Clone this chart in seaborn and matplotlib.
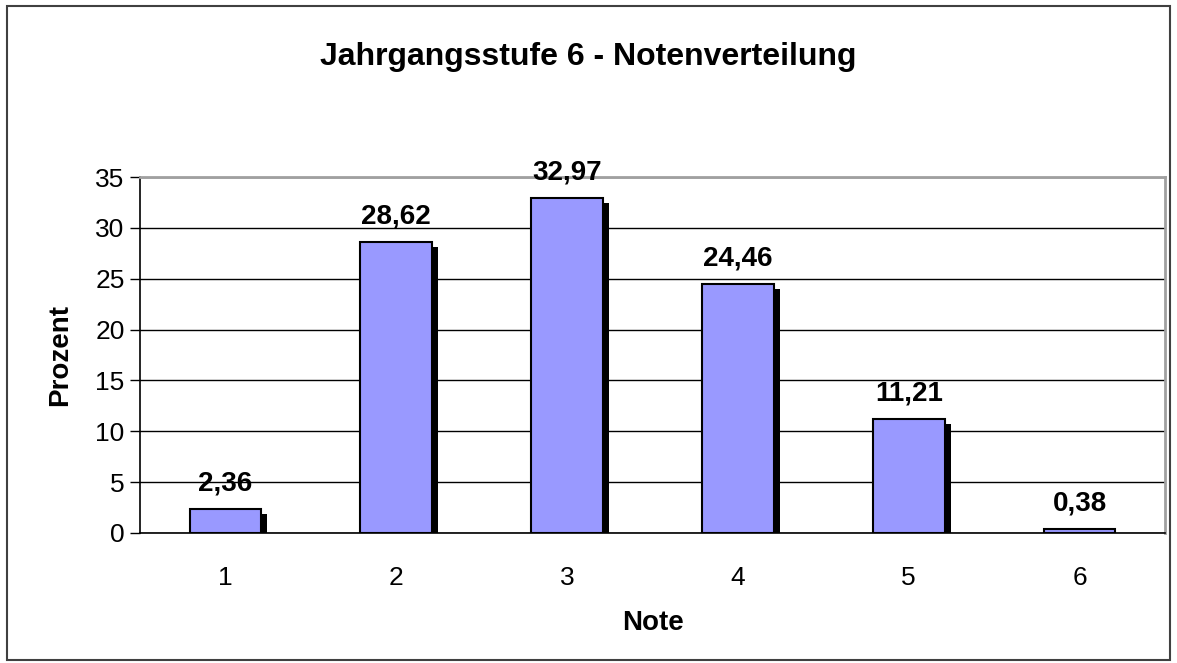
import pandas as pd
import matplotlib
matplotlib.use("Agg")
import matplotlib.pyplot as plt
import matplotlib.patheffects as pe
from matplotlib.patches import Rectangle
import seaborn as sns

# Notenverteilung Jahrgangsstufe 6
noten = ["1", "2", "3", "4", "5", "6"]
prozent = [2.36, 28.62, 32.97, 24.46, 11.21, 0.38]
labels = ["2,36", "28,62", "32,97", "24,46", "11,21", "0,38"]

df = pd.DataFrame({"Note": noten, "Prozent": prozent})

sns.set_style("white")
plt.rcParams["font.family"] = ["Liberation Sans", "DejaVu Sans"]
plt.rcParams["text.color"] = "black"
plt.rcParams["xtick.color"] = "black"
plt.rcParams["ytick.color"] = "black"
plt.rcParams["axes.labelcolor"] = "black"

fig = plt.figure(figsize=(11.77, 6.63), dpi=100)
ax = fig.add_axes([140 / 1177, 130 / 663, 1025 / 1177, 356 / 663])

sns.barplot(data=df, x="Note", y="Prozent", color="#9999FF", saturation=1,
            width=0.42, edgecolor="black", linewidth=1.5, ax=ax, zorder=3)

# Schatten wie im Excel-Diagramm
for bar in ax.patches:
    bar.set_path_effects([pe.SimplePatchShadow(offset=(4.3, -3.6), shadow_rgbFace="black", alpha=1.0),
                          pe.Normal()])

for i, bar in enumerate(ax.patches):
    ax.annotate(labels[i], (bar.get_x() + bar.get_width() / 2, bar.get_height()),
                xytext=(0, 9), textcoords="offset points", ha="center", va="bottom",
                fontsize=20, fontweight="bold")

ax.set_ylim(0, 35)
ax.set_xlim(-0.5, 5.5)
ax.set_yticks(range(0, 36, 5))
ax.yaxis.grid(True, color="black", linewidth=1.0, zorder=0)
ax.set_axisbelow(True)

# Ticks zwischen den Kategorien
ax.set_xticks([i - 0.5 for i in range(7)], minor=True)
ax.tick_params(axis="x", which="major", length=0, labelsize=19, pad=24)
ax.tick_params(axis="x", which="minor", length=7, width=1, color="black", direction="out")
ax.tick_params(axis="y", length=7, width=1, color="black", direction="out", labelsize=19, left=True, pad=4)

for s in ["left", "bottom"]:
    ax.spines[s].set_color("black")
    ax.spines[s].set_linewidth(1.2)
for s in ["top", "right"]:
    ax.spines[s].set_color("#A0A0A0")
    ax.spines[s].set_linewidth(2)

ax.set_xlabel("Note", fontsize=20, fontweight="bold", labelpad=14)
ax.set_ylabel("Prozent", fontsize=20, fontweight="bold", labelpad=16)
fig.suptitle("Jahrgangsstufe 6 - Notenverteilung", y=1 - 57 / 663, va="center",
             fontsize=23, fontweight="bold")

# Rahmen um das ganze Diagramm
fig.patches.append(Rectangle((7 / 1177, 3 / 663), 1163 / 1177, 654 / 663,
                             transform=fig.transFigure, fill=False,
                             edgecolor="#404040", linewidth=1.5))

fig.savefig("out.png", dpi=100)
